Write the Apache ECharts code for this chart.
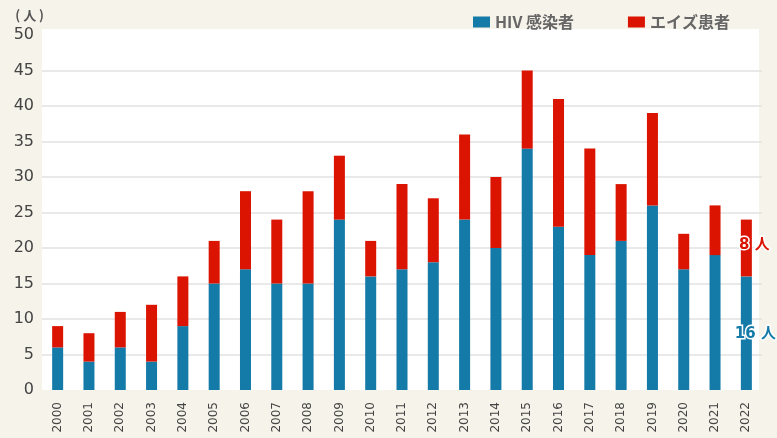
<!DOCTYPE html>
<html>
<head>
<meta charset="utf-8">
<script src="https://cdn.jsdelivr.net/npm/echarts@6/dist/echarts.min.js"></script>
<style>
  html, body { margin: 0; padding: 0; background: #f6f3ea; }
  #chart { width: 777px; height: 438px; }
</style>
</head>
<body>
<div id="chart"></div>
<script>
var years = ["2000", "2001", "2002", "2003", "2004", "2005", "2006", "2007", "2008", "2009", "2010", "2011",
  "2012", "2013", "2014", "2015", "2016", "2017", "2018", "2019", "2020", "2021", "2022"];
// HIV感染者
var hivValues = [6, 4, 6, 4, 9, 15, 17, 15, 15, 24, 16, 17, 18, 24, 20, 34, 23, 19, 21, 26, 17, 19, 16];
// エイズ患者
var aidsValues = [3, 4, 5, 8, 7, 6, 11, 9, 13, 9, 5, 12, 9, 12, 10, 11, 18, 15, 8, 13, 5, 7, 8];
var yTicks = [0, 5, 10, 15, 20, 25, 30, 35, 40, 45, 50];

var blue = "#147aa8";
var red = "#da1400";

// 最後の年だけ人数ラベルを付ける
function withLastLabel(values, color, offset) {
  return values.map(function (v, i) {
    if (i !== values.length - 1) return v;
    return {
      value: v,
      label: {
        show: true,
        position: "inside",
        offset: offset,
        formatter: "{c} 人",
        color: color,
        fontSize: 15,
        fontWeight: "bold",
        fontFamily: "DejaVu Sans, Noto Sans CJK JP",
        textBorderColor: "#fff",
        textBorderWidth: 3
      }
    };
  });
}

var myChart = echarts.init(document.getElementById("chart"));

var option = {
  backgroundColor: "#f6f3ea",
  animation: false,
  graphic: [
    {
      type: "rect",
      z: -10,
      silent: true,
      shape: { x: 42, y: 29, width: 717, height: 361 },
      style: { fill: "#ffffff" }
    }
  ],
  legend: {
    left: 468,
    top: 9,
    icon: "rect",
    itemWidth: 17,
    itemHeight: 11,
    itemGap: 54,
    textStyle: {
      fontSize: 16,
      color: "#666",
      fontWeight: "bold",
      fontFamily: "Noto Sans CJK JP"
    },
    data: ["HIV 感染者", "エイズ患者"]
  },
  grid: {
    left: 42,
    right: 15,
    top: 35,
    bottom: 48,
    containLabel: false
  },
  xAxis: {
    type: "category",
    data: years,
    axisLine: { show: false },
    axisTick: { show: false },
    axisLabel: {
      rotate: 90,
      margin: 12,
      fontSize: 12,
      color: "#444",
      fontFamily: "DejaVu Sans"
    }
  },
  yAxis: {
    type: "value",
    min: yTicks[0],
    max: yTicks[yTicks.length - 1],
    interval: 5,
    name: "( 人 )",
    nameLocation: "end",
    nameGap: 20,
    nameTextStyle: {
      align: "right",
      verticalAlign: "middle",
      fontSize: 13,
      fontWeight: "bold",
      color: "#555",
      fontFamily: "Noto Sans CJK JP",
      padding: [0, -2, 0, 0]
    },
    axisLine: { show: false },
    axisTick: { show: false },
    axisLabel: {
      margin: 8,
      fontSize: 16,
      color: "#444",
      fontFamily: "DejaVu Sans"
    },
    splitLine: {
      showMinLine: false,
      showMaxLine: false,
      lineStyle: { color: "#e2e2e2", width: 1.5 }
    }
  },
  series: [
    {
      name: "HIV 感染者",
      type: "bar",
      stack: "total",
      barWidth: 11,
      itemStyle: { color: blue },
      data: withLastLabel(hivValues, blue, [9, 1])
    },
    {
      name: "エイズ患者",
      type: "bar",
      stack: "total",
      barWidth: 11,
      itemStyle: { color: red },
      data: withLastLabel(aidsValues, red, [8, -3])
    }
  ]
};

myChart.setOption(option);
</script>
</body>
</html>
